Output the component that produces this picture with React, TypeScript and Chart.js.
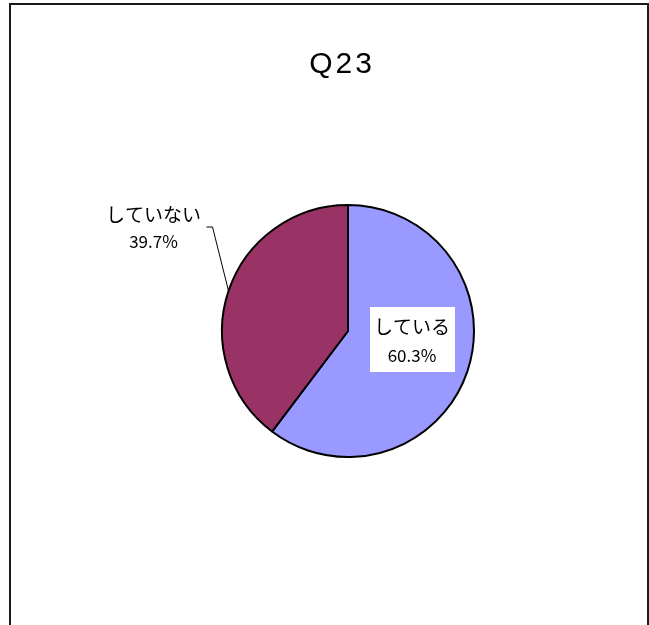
import React, { useEffect, useRef } from "react";
import { Chart, registerables } from "chart.js";

Chart.register(...registerables);

const TITLE = "Q23";
const CATEGORIES = ["している", "していない"];
const VALUES = [60.3, 39.7];
const PERCENT_LABELS = ["60.3%", "39.7%"];
const COLORS = ["#9999FF", "#993366"];

const JP_FONT = '"Noto Sans CJK JP", "Noto Sans", sans-serif';

const labelPlugin = {
  id: "q23Labels",
  afterDraw(chart: any) {
    const ctx = chart.ctx;
    const meta = chart.getDatasetMeta(0);
    const arc0 = meta.data[0];
    const arc1 = meta.data[1];
    const cx = arc0.x;
    const cy = arc0.y;
    const r = arc0.outerRadius;

    ctx.save();
    // Title
    ctx.fillStyle = "#000";
    ctx.textAlign = "center";
    ctx.textBaseline = "middle";
    ctx.font = '30px "Liberation Sans", Arial, sans-serif';
    try {
      (ctx as any).letterSpacing = "3px";
    } catch (e) {}
    ctx.fillText(chart.options.plugins.q23Labels.title, cx - 6, 65);
    try {
      (ctx as any).letterSpacing = "0px";
    } catch (e) {}

    // Label for slice 0 (inside, white box)
    const l0x = cx + r * 0.508;
    const l0y = cy + 10;
    ctx.fillStyle = "#fff";
    ctx.fillRect(l0x - 42, l0y - 34, 85, 65);
    ctx.fillStyle = "#000";
    ctx.font = "19px " + JP_FONT;
    ctx.fillText(CATEGORIES[0], l0x, l0y - 14);
    ctx.font = "17px " + JP_FONT;
    ctx.fillText(PERCENT_LABELS[0], l0x, l0y + 15);

    // Label for slice 1 (outside, with leader line)
    const l1x = cx - 194.5;
    const l1y = cy - 102;
    ctx.font = "19px " + JP_FONT;
    ctx.fillText(CATEGORIES[1], l1x, l1y - 14);
    ctx.font = "17px " + JP_FONT;
    ctx.fillText(PERCENT_LABELS[1], l1x, l1y + 13);

    // leader line to the middle of slice 1's outer edge
    const ang = (arc1.startAngle + arc1.endAngle) / 2;
    const ex = cx + r * Math.cos(ang);
    const ey = cy + r * Math.sin(ang);
    ctx.strokeStyle = "#000";
    ctx.lineWidth = 1;
    ctx.beginPath();
    ctx.moveTo(l1x + 53, cy - 104);
    ctx.lineTo(l1x + 59, cy - 104);
    ctx.lineTo(ex, ey);
    ctx.stroke();
    ctx.restore();
  },
};

export default function App() {
  const canvasRef = useRef<HTMLCanvasElement | null>(null);

  useEffect(() => {
    const canvas = canvasRef.current;
    if (!canvas) return;
    const chart = new Chart(canvas, {
      type: "pie",
      data: {
        labels: CATEGORIES,
        datasets: [
          {
            data: VALUES,
            backgroundColor: COLORS,
            borderColor: "#000",
            borderWidth: 2,
          },
        ],
      },
      options: {
        animation: false,
        responsive: false,
        radius: 126,
        layout: { padding: { left: 47, right: 0, top: 37, bottom: 0 } },
        plugins: {
          legend: { display: false },
          tooltip: { enabled: false },
          q23Labels: { title: TITLE },
        } as any,
      } as any,
      plugins: [labelPlugin],
    });
    return () => chart.destroy();
  }, []);

  return (
    <div>
      <canvas
        ref={canvasRef}
        width={649}
        height={625}
        style={{ position: "fixed", left: 0, top: 0, width: 649, height: 625 }}
      />
      <div
        style={{
          position: "fixed",
          left: 9,
          top: 3,
          width: 636,
          height: 700,
          border: "2px solid #1a1a1a",
          pointerEvents: "none",
        }}
      />
    </div>
  );
}
